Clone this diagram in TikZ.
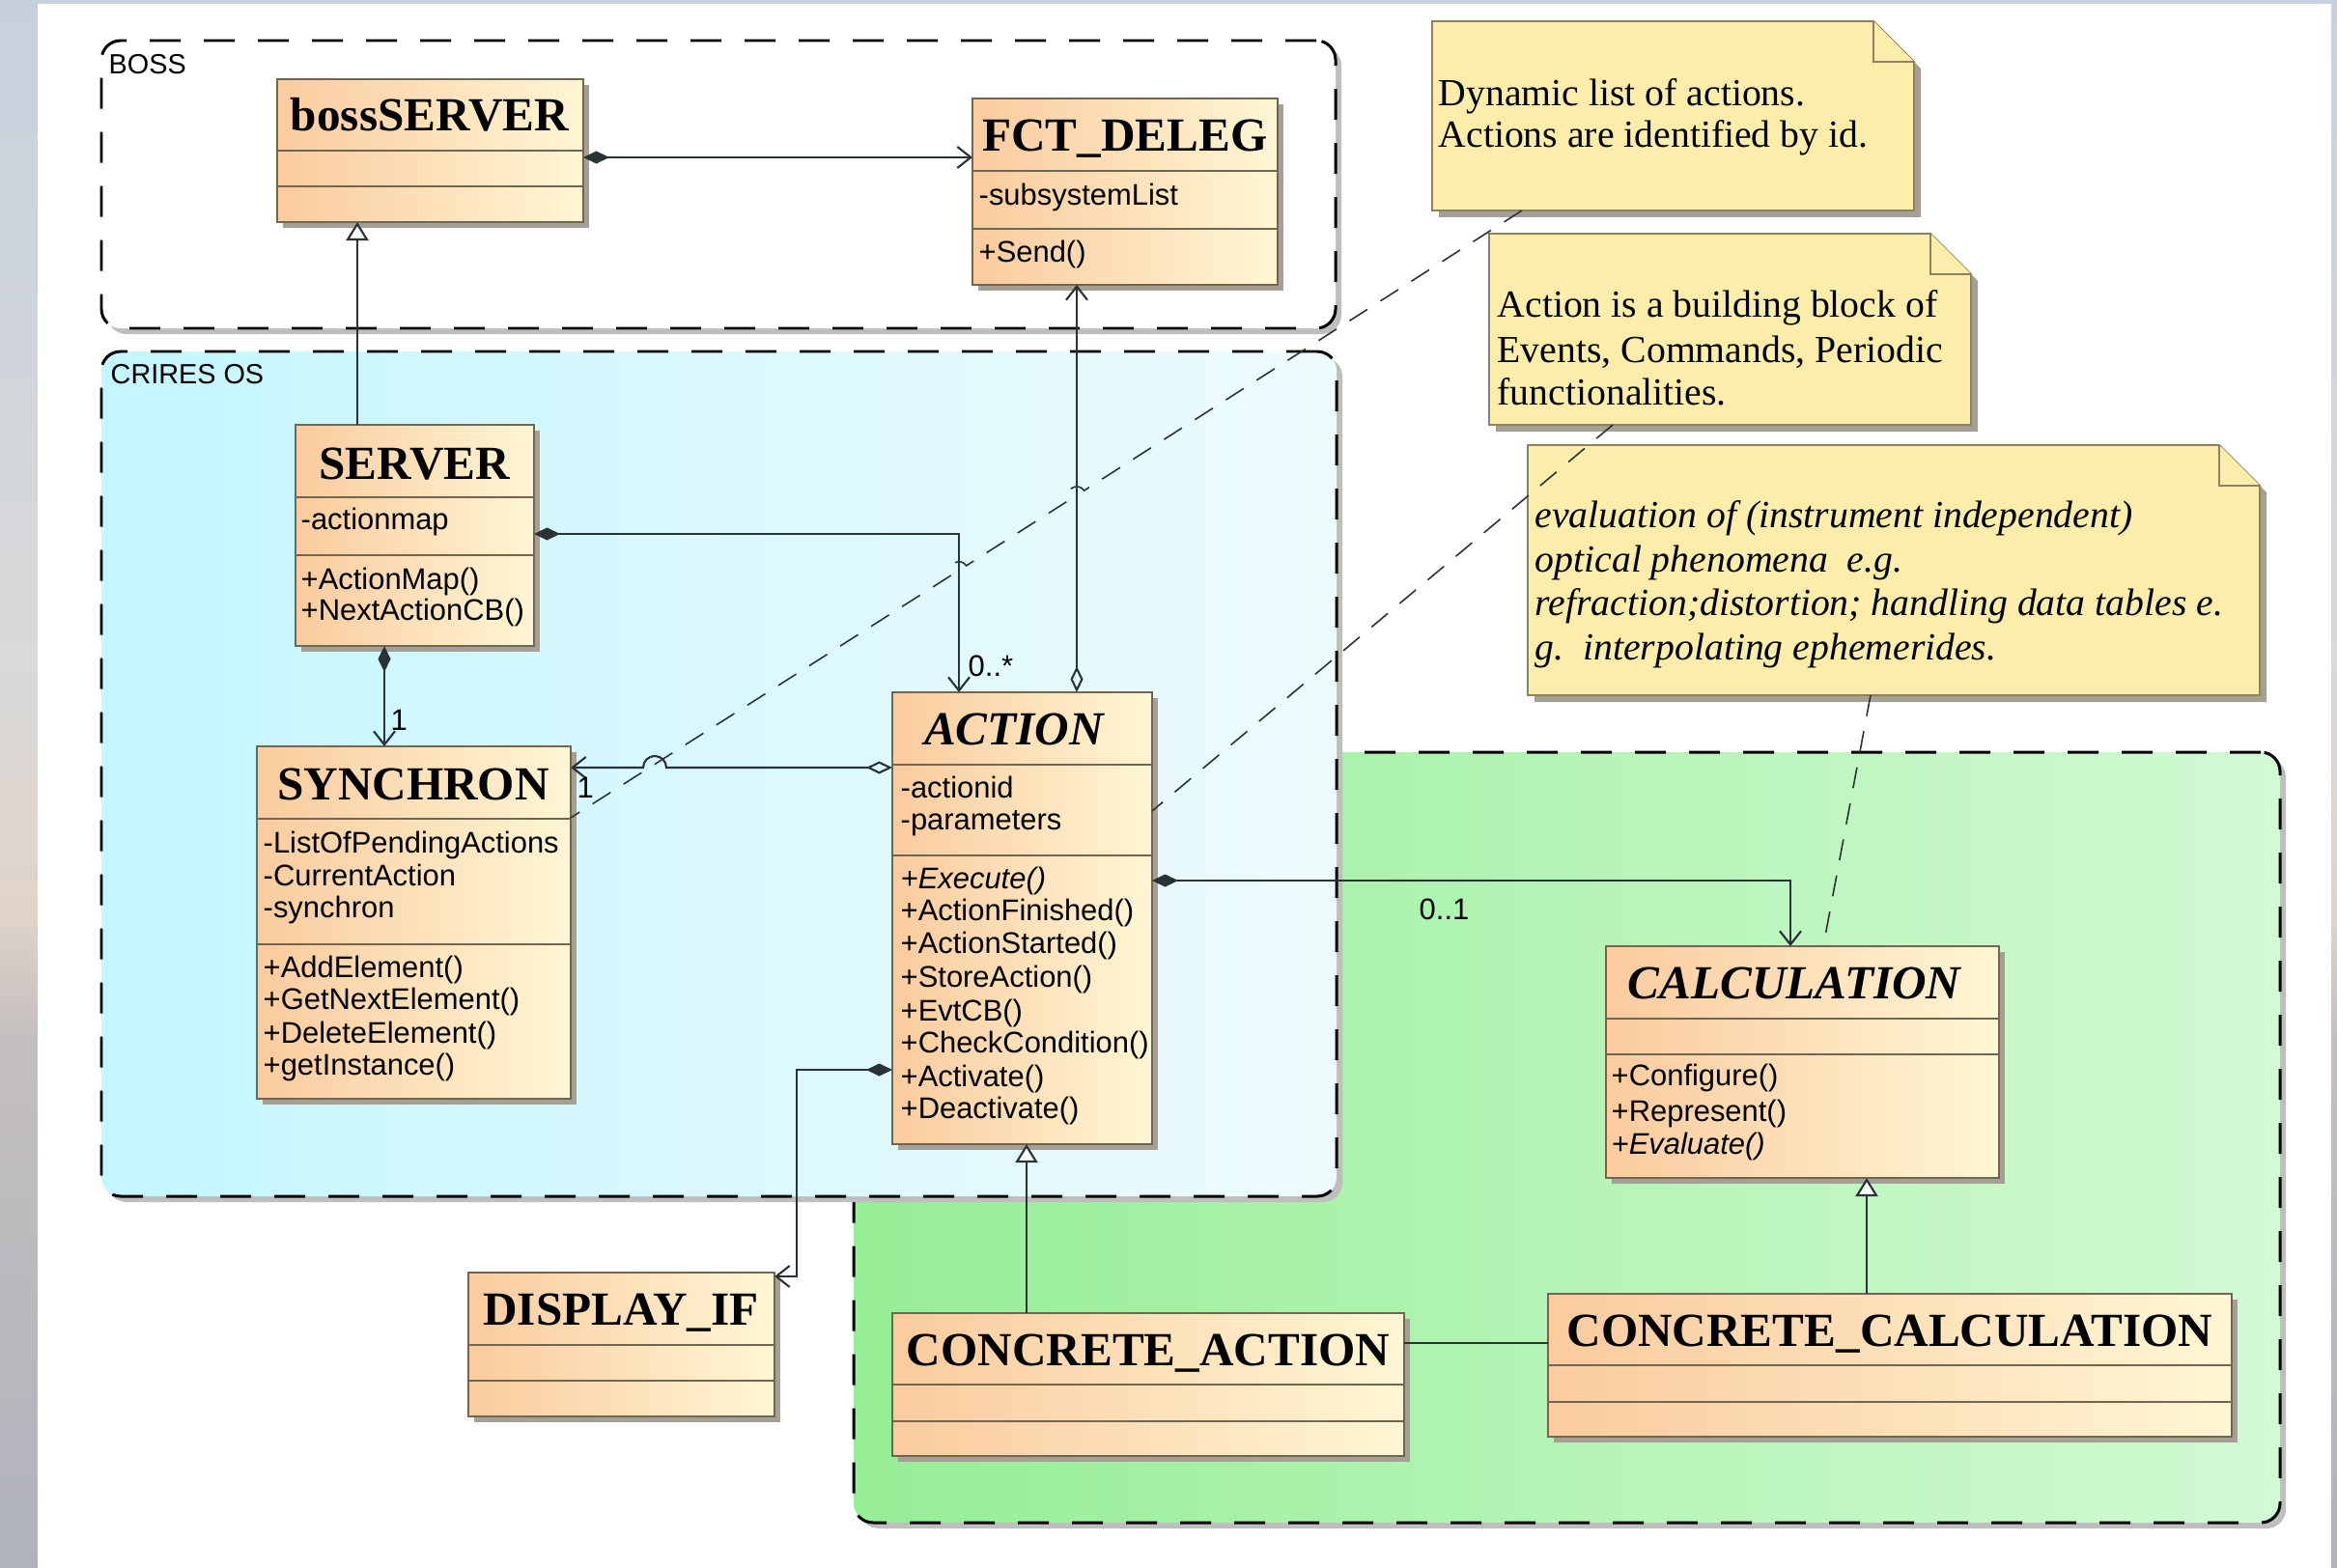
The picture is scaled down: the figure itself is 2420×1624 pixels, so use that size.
\documentclass[tikz,border=0pt]{standalone}
\usepackage{fontspec}
\setmainfont{Liberation Serif}
\setsansfont{Liberation Sans}
\usetikzlibrary{arrows.meta,fit,calc}

\definecolor{linecol}{RGB}{40,50,55}
\definecolor{boxline}{RGB}{115,102,80}
\definecolor{clsL}{RGB}{250,203,158}
\definecolor{clsR}{RGB}{255,246,212}
\definecolor{cyanL}{RGB}{196,246,255}
\definecolor{cyanR}{RGB}{238,251,253}
\definecolor{grnL}{RGB}{150,238,150}
\definecolor{grnR}{RGB}{210,250,212}
\definecolor{notefill}{RGB}{252,238,170}
\definecolor{noteline}{RGB}{140,130,95}
\definecolor{shadowcol}{RGB}{165,160,150}
\definecolor{pkgshadowcol}{RGB}{190,190,190}

\pgfdeclareverticalshading{bandshade}{100bp}{rgb(0bp)=(0.69,0.70,0.74); rgb(25bp)=(0.69,0.70,0.74); rgb(42bp)=(0.77,0.75,0.75); rgb(46bp)=(0.88,0.83,0.79); rgb(54bp)=(0.85,0.85,0.85); rgb(75bp)=(0.78,0.82,0.87); rgb(100bp)=(0.78,0.82,0.87)}

\newcommand{\umlclass}[7]{%
  \fill[shadowcol] ({#2+6},{#3+6}) rectangle ({#4+6},{#5+6});
  \node[classbox, fit={(#2,#3) (#4,#5)}] (#1) {};
  \draw[classline] (#2,#6) -- (#4,#6);
  \draw[classline] (#2,#7) -- (#4,#7);
}
\newcommand{\umlnote}[5]{%
  \node[inner sep=0pt, outer sep=0pt, fit={(#2,#3) (#4,#5)}] (#1) {};
  \fill[shadowcol] ({#2+7},{#3+7}) -- ({#4-42+7},{#3+7}) -- ({#4+7},{#3+42+7}) -- ({#4+7},{#5+7}) -- ({#2+7},{#5+7}) -- cycle;
  \filldraw[notebox] (#2,#3) -- ({#4-42},#3) -- (#4,{#3+42}) -- (#4,#5) -- (#2,#5) -- cycle;
  \draw[notebox] ({#4-42},#3) -- ({#4-42},{#3+42}) -- (#4,{#3+42});
}

\begin{document}
\begin{tikzpicture}[x=0.1mm,y=-0.1mm,
  classbox/.style={draw=boxline, line width=0.6pt, left color=clsL, right color=clsR, inner sep=0pt, outer sep=0pt},
  classline/.style={draw=boxline, line width=0.6pt},
  titletxt/.style={font=\fontsize{14}{16}\selectfont\bfseries, inner sep=0pt, anchor=base},
  titleit/.style={font=\fontsize{14}{16}\selectfont\bfseries\itshape, inner sep=0pt, anchor=base},
  attrtxt/.style={font=\sffamily\fontsize{8.8}{10}\selectfont, inner sep=0pt, anchor=base west},
  attrit/.style={font=\sffamily\itshape\fontsize{8.8}{10}\selectfont, inner sep=0pt, anchor=base west},
  notetxt/.style={font=\fontsize{11.3}{13}\selectfont, inner sep=0pt, anchor=base west},
  noteit/.style={font=\fontsize{11.3}{13}\selectfont\itshape, inner sep=0pt, anchor=base west},
  pkgtxt/.style={font=\sffamily\fontsize{8.2}{9}\selectfont, inner sep=0pt, anchor=base west},
  multtxt/.style={font=\sffamily\fontsize{8.8}{10}\selectfont, inner sep=0pt, anchor=base west},
  pkg/.style={draw=black, line width=0.85pt, dash pattern=on 3.2mm off 2.4mm, rounded corners=2mm, inner sep=0pt, outer sep=0pt},
  pkgshadow/.style={fill=pkgshadowcol, rounded corners=2mm},
  notebox/.style={fill=notefill, draw=noteline, line width=0.5pt},
  conn/.style={draw=linecol, line width=0.6pt},
  compo/.style={conn, {Diamond[length=2.7mm,width=1.3mm,fill=linecol]}-{Straight Barb[length=1.4mm,width=2.2mm]}},
  aggr/.style={conn, {Diamond[length=2.7mm,width=1.3mm,open]}-{Straight Barb[length=1.4mm,width=2.2mm]}},
  genz/.style={conn, -{Triangle[length=1.9mm,width=2.3mm,fill=white]}},
  notelink/.style={draw=linecol, line width=0.45pt, dash pattern=on 2.2mm off 1.6mm}
]
\useasboundingbox (0,0) rectangle (2420,1624);
\shade[shading=bandshade] (0,0) rectangle (2420,1624);
\fill[white] (39,4) rectangle (2414,1624);

% packages
\fill[pkgshadow] (890,785) rectangle (2367,1583);
\node[pkg, left color=grnL, right color=grnR, fit={(884,779) (2361,1577)}] (grnpkg) {};
\fill[pkgshadow] (111,48) rectangle (1389,346);
\node[pkg, fill=white, fit={(105,42) (1383,340)}] (bosspkg) {};
\fill[pkgshadow] (111,370) rectangle (1390,1245);
\node[pkg, left color=cyanL, right color=cyanR, fit={(105,364) (1384,1239)}] (crirespkg) {};
\node[pkgtxt] (bosslbl) at (112,77) {BOSS};
\node[pkgtxt] (crireslbl) at (114,397) {CRIRES OS};

% notes
\umlnote{note1}{1483}{22}{1982}{218}
\umlnote{note2}{1542}{242}{2041}{440}
\umlnote{note3}{1582}{461}{2340}{720}
\node[notetxt] (n1a) at (1489,110) {Dynamic list of actions.};
\node[notetxt] (n1b) at (1489,153) {Actions are identified by id.};
\node[notetxt] (n2a) at (1550,328) {Action is a building block of};
\node[notetxt] (n2b) at (1550,375) {Events, Commands, Periodic};
\node[notetxt] (n2c) at (1550,419) {functionalities.};
\node[noteit] (n3a) at (1589,546) {evaluation of (instrument independent)};
\node[noteit] (n3b) at (1589,592) {optical phenomena\enspace e.g.};
\node[noteit] (n3c) at (1589,637) {refraction;distortion; handling data tables e.};
\node[noteit] (n3d) at (1589,683) {g.\enspace interpolating ephemerides.};

% classes
\umlclass{bsrv}{287}{82}{604}{230}{156}{193}
\node[titletxt] (bsrv-t) at (445,136) {bossSERVER};

\umlclass{fct}{1007}{102}{1323}{295}{177}{237}
\node[titletxt] (fct-t) at (1165,157) {FCT\_DELEG};
\node[attrtxt] (fct-a1) at (1013,212) {-subsystemList};
\node[attrtxt] (fct-o1) at (1013,272) {+Send()};

\umlclass{srv}{306}{440}{553}{669}{515}{575}
\node[titletxt] (srv-t) at (429,496) {SERVER};
\node[attrtxt] (srv-a1) at (311,548) {-actionmap};
\node[attrtxt] (srv-o1) at (311,610) {+ActionMap()};
\node[attrtxt] (srv-o2) at (311,642) {+NextActionCB()};

\umlclass{syn}{266}{773}{591}{1138}{848}{978}
\node[titletxt] (syn-t) at (428,828) {SYNCHRON};
\node[attrtxt] (syn-a1) at (272,883) {-ListOfPendingActions};
\node[attrtxt] (syn-a2) at (272,917) {-CurrentAction};
\node[attrtxt] (syn-a3) at (272,950) {-synchron};
\node[attrtxt] (syn-o1) at (272,1012) {+AddElement()};
\node[attrtxt] (syn-o2) at (272,1045) {+GetNextElement()};
\node[attrtxt] (syn-o3) at (272,1080) {+DeleteElement()};
\node[attrtxt] (syn-o4) at (272,1113) {+getInstance()};

\umlclass{act}{924}{717}{1193}{1185}{792}{886}
\node[titleit] (act-t) at (1050,771) {ACTION};
\node[attrtxt] (act-a1) at (932,826) {-actionid};
\node[attrtxt] (act-a2) at (932,859) {-parameters};
\node[attrit] (act-o1) at (932,920) {+Execute()};
\node[attrtxt] (act-o2) at (932,953) {+ActionFinished()};
\node[attrtxt] (act-o3) at (932,987) {+ActionStarted()};
\node[attrtxt] (act-o4) at (932,1022) {+StoreAction()};
\node[attrtxt] (act-o5) at (932,1057) {+EvtCB()};
\node[attrtxt] (act-o6) at (932,1090) {+CheckCondition()};
\node[attrtxt] (act-o7) at (932,1125) {+Activate()};
\node[attrtxt] (act-o8) at (932,1158) {+Deactivate()};

\umlclass{calc}{1663}{980}{2070}{1220}{1055}{1092}
\node[titleit] (calc-t) at (1858,1034) {CALCULATION};
\node[attrtxt] (calc-o1) at (1668,1124) {+Configure()};
\node[attrtxt] (calc-o2) at (1668,1161) {+Represent()};
\node[attrit] (calc-o3) at (1668,1195) {+Evaluate()};

\umlclass{cact}{924}{1360}{1454}{1508}{1434}{1472}
\node[titletxt] (cact-t) at (1189,1414) {CONCRETE\_ACTION};

\umlclass{ccalc}{1603}{1340}{2311}{1488}{1414}{1452}
\node[titletxt] (ccalc-t) at (1957,1394) {CONCRETE\_CALCULATION};

\umlclass{dif}{485}{1318}{802}{1467}{1393}{1430}
\node[titletxt] (dif-t) at (643,1372) {DISPLAY\_IF};

% connectors
\draw[compo] (bsrv.east |- 0,163) -- (fct.west |- 0,163);
\draw[genz] (srv.north -| 370,0) -- (bsrv.south -| 370,0);
\draw[compo] (srv.east |- 0,553) -- (993,553) -- (act.north -| 993,0);
\node[multtxt] (m1) at (1002,700) {0..*};
\draw[aggr] (act.north -| 1115,0) -- (fct.south -| 1115,0);
\draw[compo] (srv.south -| 398,0) -- (syn.north -| 398,0);
\node[multtxt] (m2) at (404,756) {1};
\draw[aggr] (act.west |- 0,795) -- (690,795) arc[start angle=0, end angle=-180, radius=12] -- (syn.east |- 0,795);
\node[multtxt] (m3) at (597,826) {1};
\draw[compo] (act.east |- 0,912) -- (1854,912) -- (calc.north -| 1854,0);
\node[multtxt] (m4) at (1469,952) {0..1};
\draw[compo] (act.west |- 0,1108) -- (825,1108) -- (825,1322) -- (dif.east |- 0,1322);
\draw[genz] (cact.north -| 1063,0) -- (act.south -| 1063,0);
\draw[genz] (ccalc.north -| 1933,0) -- (calc.south -| 1933,0);
\draw[conn] (cact.east |- 0,1391) -- (ccalc.west |- 0,1391);

% note links
\draw[notelink] (note1.south -| 1576,0) -- (1122.6,508.1) arc[start angle=-32.5, end angle=-212.5, radius=9] -- (1000.6,585.9) arc[start angle=-32.5, end angle=-212.5, radius=9] -- (syn.east |- 0,847);
\draw[notelink] (note2.south -| 1670,0) -- (act.east |- 0,840);
\draw[notelink] (note3.south -| 1937,0) -- (calc.north -| 1888,0);
\end{tikzpicture}
\end{document}
